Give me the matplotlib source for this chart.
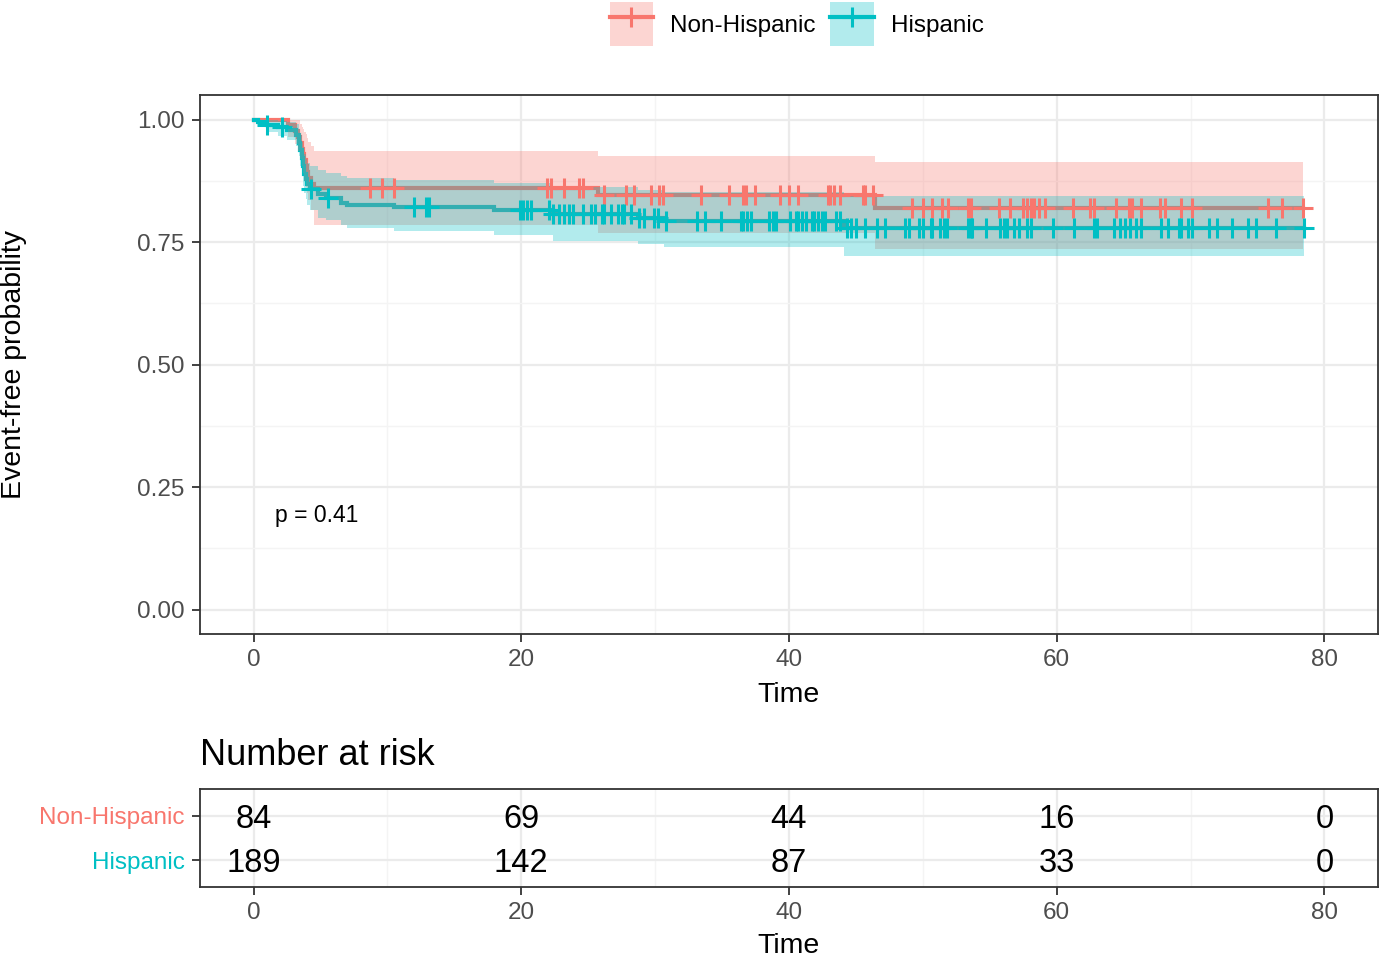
import numpy as np
import matplotlib
matplotlib.use("Agg")
import matplotlib.pyplot as plt
from matplotlib.patches import Patch
from matplotlib.lines import Line2D
from matplotlib.ticker import MultipleLocator

plt.rcParams['font.family'] = ['Liberation Sans', 'DejaVu Sans']

groups = ["Non-Hispanic", "Hispanic"]
colors = ["#F8766D", "#00BFC4"]

# Non-Hispanic KM steps
nh_time = [0, 2.6, 3.1, 3.3, 3.5, 3.6, 3.7, 3.8, 3.9, 4.0, 4.1, 4.3, 4.5, 25.7, 46.4]
nh_surv = [1.0, 0.988, 0.976, 0.964, 0.952, 0.940, 0.929, 0.917, 0.905, 0.893, 0.881, 0.869, 0.860, 0.845, 0.820]
nh_upper = [1.0, 1.0, 1.0, 1.0, 0.99, 0.985, 0.98, 0.975, 0.97, 0.962, 0.955, 0.945, 0.935, 0.925, 0.913]
nh_lower = [1.0, 0.965, 0.95, 0.935, 0.92, 0.905, 0.89, 0.875, 0.862, 0.85, 0.835, 0.815, 0.785, 0.768, 0.736]
nh_end = 78.4
nh_censor = [8.7, 9.6, 10.5, 21.9, 22.2, 23.2, 24.3, 24.6, 26.2, 27.8, 28.4, 29.7, 30.3, 30.6,
             33.4, 35.5, 36.6, 36.8, 37.5, 39.3, 40.0, 40.7, 42.9, 43.1, 43.4, 43.8, 45.5, 45.7,
             46.3, 49.2, 50.0, 50.7, 51.4, 51.9, 53.4, 53.6, 55.7, 56.5, 57.5, 57.8, 58.1, 58.3,
             58.7, 59.1, 61.2, 62.5, 62.8, 64.4, 65.4, 65.6, 66.3, 67.7, 68.1, 69.3, 70.1, 75.8,
             76.8, 78.4]

# Hispanic KM steps
h_time = [0, 0.3, 1.0, 1.8, 2.5, 3.2, 3.4, 3.5, 3.6, 3.7, 3.8, 3.9, 4.0, 4.2, 4.8, 5.4, 6.5,
          7.0, 10.5, 18.0, 22.4, 28.7, 30.7, 44.1]
h_surv = [1.0, 0.995, 0.989, 0.984, 0.979, 0.968, 0.952, 0.937, 0.921, 0.905, 0.889, 0.878,
          0.868, 0.858, 0.847, 0.840, 0.830, 0.825, 0.821, 0.815, 0.807, 0.800, 0.793, 0.779]
h_upper = [1.0, 1.0, 1.0, 0.998, 0.995, 0.99, 0.98, 0.968, 0.955, 0.943, 0.93, 0.92, 0.912,
           0.905, 0.897, 0.89, 0.885, 0.88, 0.876, 0.87, 0.863, 0.857, 0.852, 0.843]
h_lower = [1.0, 0.985, 0.975, 0.967, 0.959, 0.945, 0.925, 0.905, 0.886, 0.865, 0.85, 0.838,
           0.826, 0.815, 0.80, 0.795, 0.785, 0.778, 0.772, 0.765, 0.753, 0.745, 0.740, 0.722]
h_end = 78.5
h_censor = [1.0, 2.1, 4.3, 5.6, 12.0, 12.9, 13.1, 19.9, 20.1, 20.4, 20.7, 22.1, 22.4, 22.8, 23.2,
            23.6, 23.9, 24.6, 25.2, 25.5, 26.0, 26.2, 26.7, 27.2, 27.5, 27.7, 28.2, 28.8, 29.2,
            29.9, 30.2, 30.8, 33.1, 33.7, 34.9, 36.4, 36.6, 36.9, 37.2, 38.5, 38.8, 39.0, 40.1,
            40.5, 40.7, 41.0, 41.3, 41.7, 41.9, 42.2, 42.5, 42.7, 43.5, 43.8, 44.3, 44.6, 45.0,
            45.7, 46.6, 47.2, 48.7, 49.0, 49.7, 50.0, 50.6, 50.7, 51.3, 51.6, 51.8, 53.4, 53.6,
            53.7, 54.7, 55.8, 56.1, 56.3, 56.8, 57.2, 57.8, 58.1, 59.7, 61.3, 62.8, 63.0, 64.3,
            64.7, 65.1, 65.5, 65.9, 66.3, 67.8, 68.3, 69.1, 69.3, 69.8, 70.1, 71.4, 72.0, 73.1,
            74.3, 74.9, 76.4, 78.5]

risk_times = [0, 20, 40, 60, 80]
risk_nh = [84, 69, 44, 16, 0]
risk_h = [189, 142, 87, 33, 0]
p_text = "p = 0.41"

fig = plt.figure(figsize=(13.81, 9.57), dpi=100)
ax = fig.add_axes([0.1448, 0.3375, 0.8530, 0.5632])
axr = fig.add_axes([0.1448, 0.0731, 0.8530, 0.1024])

grid_major = "#EBEBEB"
border = "#333333"
tickc = "#4D4D4D"

data = [
    (nh_time, nh_surv, nh_upper, nh_lower, nh_end, nh_censor, colors[0]),
    (h_time, h_surv, h_upper, h_lower, h_end, h_censor, colors[1]),
]

for t, s, up, lo, end, cens, col in data:
    te = np.array(list(t) + [end])
    se = np.array(list(s) + [s[-1]])
    ax.step(te, se, where='post', color=col, lw=3.0, zorder=2, solid_joinstyle='miter')
for t, s, up, lo, end, cens, col in data:
    te = np.array(list(t) + [end])
    ue = np.array(list(up) + [up[-1]])
    le = np.array(list(lo) + [lo[-1]])
    ax.fill_between(te, le, ue, step='post', color=col, alpha=0.3, lw=0, zorder=3)
for t, s, up, lo, end, cens, col in data:
    ta = np.array(t)
    sa = np.array(s)
    c = np.array(cens)
    idx = np.searchsorted(ta, c, side='right') - 1
    ax.plot(c, sa[idx], ls='none', marker='+', ms=14, mew=2.2, color=col, zorder=4)

ax.text(1.6, 0.192, p_text, fontsize=16.5, ha='left', va='center', color='black')

for a in (ax, axr):
    a.set_xlim(-4, 84)
    a.xaxis.set_major_locator(MultipleLocator(20))
    a.xaxis.set_minor_locator(MultipleLocator(10))
    a.grid(which='major', color=grid_major, lw=1.6, zorder=0)
    a.grid(which='minor', color="#F4F4F4", lw=1.0, zorder=0)
    a.set_axisbelow(True)
    for sp in a.spines.values():
        sp.set_color(border)
        sp.set_linewidth(1.3)
    a.tick_params(which='major', length=6, width=1.3, color=border, labelcolor=tickc,
                  labelsize=17.5, pad=5)
    a.tick_params(which='minor', length=0)

ax.set_ylim(-0.05, 1.05)
ax.set_yticks([0, 0.25, 0.5, 0.75, 1.0])
ax.set_yticklabels(["0.00", "0.25", "0.50", "0.75", "1.00"])
ax.yaxis.set_minor_locator(MultipleLocator(0.125))
ax.set_xlabel("Time", fontsize=20.5, labelpad=8)
ax.set_ylabel("Event-free probability", fontsize=20.5)
ax.yaxis.set_label_coords(-0.147, 0.5)

# risk table
axr.set_ylim(0.4, 2.6)
axr.set_yticks([2, 1])
axr.set_yticklabels(groups)
for lab, col in zip(axr.get_yticklabels(), colors):
    lab.set_color(col)
axr.tick_params(axis='y', which='minor', length=0)
for x, n in zip(risk_times, risk_nh):
    axr.text(x, 2, str(n), fontsize=23.5, ha='center', va='center_baseline', color='black')
for x, n in zip(risk_times, risk_h):
    axr.text(x, 1, str(n), fontsize=23.5, ha='center', va='center_baseline', color='black')
axr.set_xlabel("Time", fontsize=20.5, labelpad=6)
axr.set_title("Number at risk", fontsize=26, loc='left', pad=17)

handles = [
    (Patch(facecolor=colors[0], alpha=0.3, edgecolor='none'),
     Line2D([], [], color=colors[0], lw=3, marker='+', ms=14, mew=2.2)),
    (Patch(facecolor=colors[1], alpha=0.3, edgecolor='none'),
     Line2D([], [], color=colors[1], lw=3, marker='+', ms=14, mew=2.2)),
]
fig.legend(handles, groups, loc='upper center', bbox_to_anchor=(0.577, 1.0105), ncol=2,
           frameon=False, fontsize=17.5, handlelength=1.8, handleheight=2.4,
           handletextpad=0.7, columnspacing=0.6, borderaxespad=0.1)

fig.savefig("out.png", dpi=100)
